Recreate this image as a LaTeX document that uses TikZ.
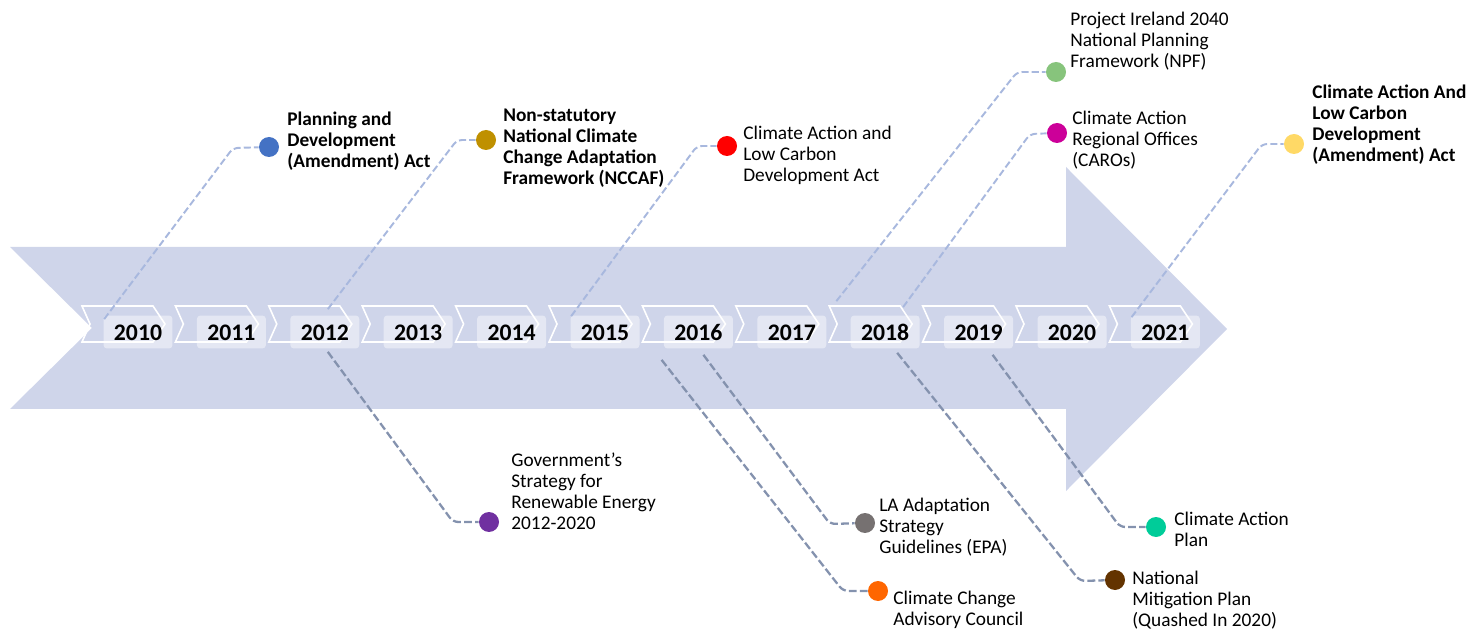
\documentclass[tikz,border=0pt]{standalone}
\usepackage{fontspec}
\setmainfont{Carlito}
\usetikzlibrary{calc}

\definecolor{arrowbg}{RGB}{207,213,234}
\definecolor{upline}{RGB}{168,184,222}
\definecolor{lowline}{RGB}{132,146,174}
\definecolor{cBlue}{RGB}{68,114,196}
\definecolor{cGold}{RGB}{191,144,0}
\definecolor{cRed}{RGB}{255,0,0}
\definecolor{cGreen}{RGB}{135,196,124}
\definecolor{cMagenta}{RGB}{204,0,153}
\definecolor{cYellow}{RGB}{255,217,102}
\definecolor{cPurple}{RGB}{112,48,160}
\definecolor{cGrey}{RGB}{118,113,113}
\definecolor{cOrange}{RGB}{255,102,0}
\definecolor{cBrown}{RGB}{99,51,0}
\definecolor{cTeal}{RGB}{0,204,153}

\tikzset{
  chev/.style={draw=white, line width=0.9pt},
  yearbox/.style={rectangle, rounded corners=2pt, fill=white, fill opacity=0.45, text opacity=1,
    minimum width=1.38cm, minimum height=0.66cm, inner sep=0pt, text height=9.5pt, text depth=0pt,
    font=\fontsize{13.5}{14}\selectfont\bfseries},
  updash/.style={draw=upline, line width=1.1pt, dash pattern=on 4pt off 1.8pt, rounded corners=3pt},
  lowdash/.style={draw=lowline, line width=1.3pt, dash pattern=on 4.5pt off 1.8pt, rounded corners=3pt},
  dot/.style={circle, minimum size=0.4cm, inner sep=0pt},
  lbl/.style={anchor=west, align=left, inner sep=0pt, font=\fontsize{11}{12}\selectfont},
  blbl/.style={lbl, font=\fontsize{11}{12}\selectfont\bfseries}
}

\begin{document}
\begin{tikzpicture}[x=0.02cm, y=-0.02cm]
    \useasboundingbox (0,0) rectangle (1483,634);

    % big arrow
    \fill[arrowbg] (10,247) -- (1066,247) -- (1066,167) -- (1227,329) -- (1066,491)
        -- (1066,409) -- (10,409) -- (92,328) -- cycle;

    % years
    \foreach \yr [count=\i from 0] in {2010,...,2021} {
        \pgfmathsetmacro\xa{82+93.4*\i}
        \draw[chev] (\xa,306) -- ++(71,0) -- ++(12,18) -- ++(-12,18) -- ++(-71,0) -- ++(8,-18) -- cycle;
        \node[yearbox] (y\yr) at (\xa+56,332) {\yr};
    }

    % events above
    \node[dot, fill=cBlue] (pda) at (269,147) {};
    \coordinate (pda-b) at (233,148);
    \draw[updash] ($(y2010.north west)+(1,4)$) -- (pda-b) -- (pda);
    \node[blbl] (pda-t) at (287,141) {Planning and\\Development\\(Amendment) Act};

    \node[dot, fill=cGold] (nccaf) at (486,140) {};
    \coordinate (nccaf-b) at (457,140);
    \draw[updash] ($(y2012.north)+(3,-6)$) -- (nccaf-b) -- (nccaf);
    \node[blbl] (nccaf-t) at (503,148) {Non-statutory\\National Climate\\Change Adaptation\\Framework (NCCAF)};

    \node[dot, fill=cRed] (calcd) at (727,146) {};
    \coordinate (calcd-b) at (697,146);
    \draw[updash] ($(y2015.north west)+(1,1)$) -- (calcd-b) -- (calcd);
    \node[lbl] (calcd-t) at (743,155) {Climate Action and\\Low Carbon\\Development Act};

    \node[dot, fill=cGreen] (npf) at (1056,72) {};
    \coordinate (npf-b) at (1017,72);
    \draw[updash] ($(y2018.north west)+(-14,-14)$) -- (npf-b) -- (npf);
    \node[lbl] (npf-t) at (1070,41) {Project Ireland 2040\\National Planning\\Framework (NPF)};

    \node[dot, fill=cMagenta] (caro) at (1057,133) {};
    \coordinate (caro-b) at (1030,134);
    \draw[updash] ($(y2018.north east)+(-17,-8)$) -- (caro-b) -- (caro);
    \node[lbl] (caro-t) at (1072,140) {Climate Action\\Regional Offices\\(CAROs)};

    \node[dot, fill=cYellow] (calca) at (1294,144) {};
    \coordinate (calca-b) at (1262,144);
    \draw[updash] ($(y2021.north west)+(1,2)$) -- (calca-b) -- (calca);
    \node[blbl] (calca-t) at (1312,125) {Climate Action And\\Low Carbon\\Development\\(Amendment) Act};

    % events below
    \node[dot, fill=cPurple] (gsre) at (489,522) {};
    \coordinate (gsre-b) at (453,522);
    \draw[lowdash] ($(y2012.south)+(3,3)$) -- (gsre-b) -- (gsre);
    \node[lbl] (gsre-t) at (511,491) {Government’s\\Strategy for\\Renewable Energy\\2012-2020};

    \node[dot, fill=cOrange] (ccac) at (878,591) {};
    \coordinate (ccac-b) at (843,591);
    \draw[lowdash] ($(y2016.south west)+(-2,11)$) -- (ccac-b) -- (ccac);
    \node[lbl] (ccac-t) at (893,610) {Climate Change\\Advisory Council};

    \node[dot, fill=cGrey] (laas) at (865,523) {};
    \coordinate (laas-b) at (830,524);
    \draw[lowdash] ($(y2016.south)+(5,6)$) -- (laas-b) -- (laas);
    \node[lbl] (laas-t) at (879,527) {LA Adaptation\\Strategy\\Guidelines (EPA)};

    \node[dot, fill=cBrown] (nmp) at (1115,580) {};
    \coordinate (nmp-b) at (1080,581);
    \draw[lowdash] ($(y2018.south)+(12,4)$) -- (nmp-b) -- (nmp);
    \node[lbl] (nmp-t) at (1132,600) {National\\Mitigation Plan\\(Quashed In 2020)};

    \node[dot, fill=cTeal] (cap) at (1156,527) {};
    \coordinate (cap-b) at (1120,527);
    \draw[lowdash] ($(y2019.south)+(14,6)$) -- (cap-b) -- (cap);
    \node[lbl] (cap-t) at (1174,529) {Climate Action\\Plan};
\end{tikzpicture}
\end{document}
